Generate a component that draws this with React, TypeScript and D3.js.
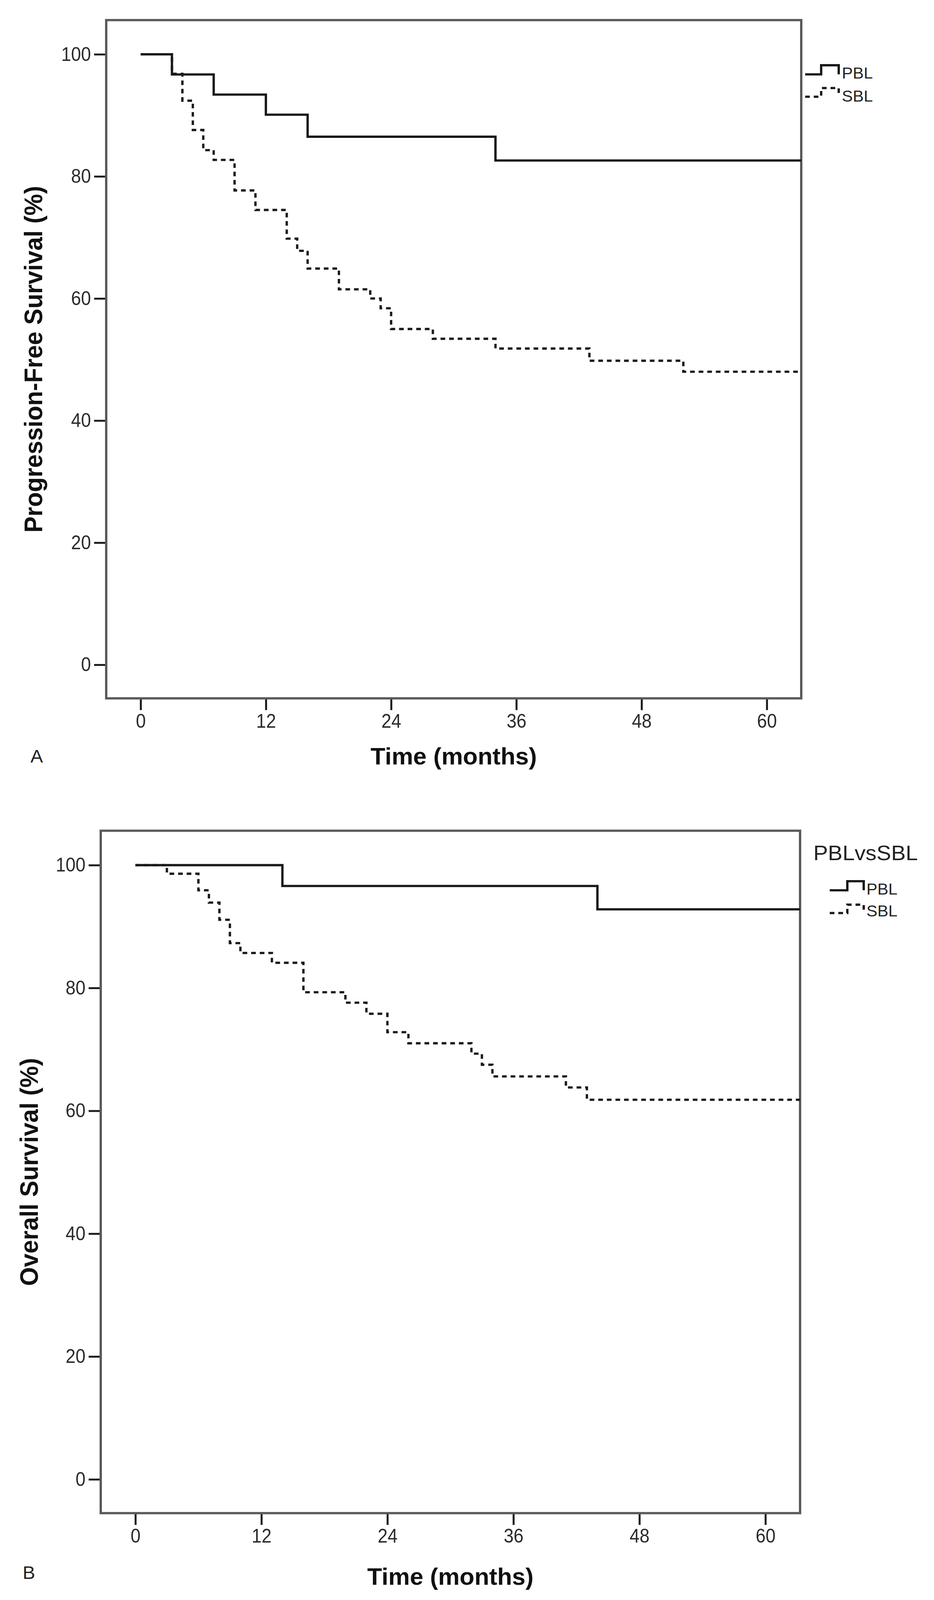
import React, { useRef, useEffect } from "react";
import * as d3 from "d3";

// Kaplan-Meier step estimates (months, % surviving)
const pfsPblTimes = [0, 3, 7, 12, 16, 34];
const pfsPblSurv = [100, 96.7, 93.4, 90.1, 86.5, 82.6];
const pfsSblTimes = [0, 3, 4, 5, 6, 7, 9, 11, 14, 15, 16, 19, 22, 23, 24, 28, 34, 43, 52];
const pfsSblSurv = [100, 96.8, 92.4, 87.6, 84.3, 82.7, 77.7, 74.5, 69.8, 67.8, 64.9, 61.5, 60.0, 58.4, 55.0, 53.4, 51.8, 49.8, 48.0];

const osPblTimes = [0, 14, 44];
const osPblSurv = [100, 96.6, 92.8];
const osSblTimes = [0, 3, 6, 7, 8, 9, 10, 13, 16, 20, 22, 24, 26, 32, 33, 34, 41, 43];
const osSblSurv = [100, 98.6, 95.9, 93.9, 91.1, 87.3, 85.7, 84.1, 79.3, 77.6, 75.8, 72.8, 71.0, 69.3, 67.5, 65.6, 63.8, 61.8];

const lastFollowUp = 63.3;
const xTicks = [0, 12, 24, 36, 48, 60];
const yTicks = [0, 20, 40, 60, 80, 100];
const groups = ["PBL", "SBL"];

const W = 2392;
const H = 4218;
const tickFont = "'Liberation Sans', Arial, sans-serif";
const textFont = "'Liberation Sans', Arial, sans-serif";
const frameColor = "#5a5a5a";
const curveColor = "#1a1a1a";
const dash = "12,10";
const narrow = 0.88;

interface Panel {
  letter: string;
  yTitle: string;
  legendTitle?: string;
  left: number;
  right: number;
  top: number;
  bottom: number;
  yTitleX: number;
  xTitleY: number;
  letterX: number;
  letterY: number;
  series: { times: number[]; surv: number[] }[];
  legend: { titleX: number; titleY: number; x0: number; x1: number; x2: number; textX: number; rows: { low: number; high: number; base: number }[] };
}

const panels: Panel[] = [
  {
    letter: "A",
    yTitle: "Progression-Free Survival (%)",
    left: 272, right: 2052, top: 53, bottom: 1841,
    yTitleX: 108, xTitleY: 2015, letterX: 78, letterY: 2010,
    series: [
      { times: pfsPblTimes, surv: pfsPblSurv },
      { times: pfsSblTimes, surv: pfsSblSurv },
    ],
    legend: {
      titleX: 0, titleY: 0, x0: 2062, x1: 2103, x2: 2148, textX: 2156,
      rows: [
        { low: 196, high: 172, base: 207 },
        { low: 255, high: 232, base: 268 },
      ],
    },
  },
  {
    letter: "B",
    yTitle: "Overall Survival (%)",
    legendTitle: "PBLvsSBL",
    left: 258, right: 2049, top: 2190, bottom: 3989,
    yTitleX: 97, xTitleY: 4178, letterX: 58, letterY: 4162,
    series: [
      { times: osPblTimes, surv: osPblSurv },
      { times: osSblTimes, surv: osSblSurv },
    ],
    legend: {
      titleX: 2083, titleY: 2268, x0: 2125, x1: 2170, x2: 2212, textX: 2219,
      rows: [
        { low: 2347, high: 2323, base: 2358 },
        { low: 2407, high: 2385, base: 2416 },
      ],
    },
  },
];

export default function App() {
  const svgRef = useRef<SVGSVGElement>(null);
  const vw = typeof window !== "undefined" && window.innerWidth > 100 ? window.innerWidth : W;
  const vh = typeof window !== "undefined" && window.innerHeight > 100 ? Math.min(window.innerHeight, H) : H;

  useEffect(() => {
    if (!svgRef.current) return;
    const svg = d3.select(svgRef.current);
    svg.selectAll("*").remove();

    svg.append("rect").attr("width", W).attr("height", H).attr("fill", "#fff");

    panels.forEach((p) => {
      const x = d3.scaleLinear().domain([-3.3, lastFollowUp]).range([p.left, p.right]);
      const y = d3.scaleLinear().domain([-5.5, 105.6]).range([p.bottom, p.top]);
      const g = svg.append("g");

      // Y axis
      const yAxis = g
        .append("g")
        .attr("transform", `translate(${p.left},0)`)
        .call(d3.axisLeft(y).tickValues(yTicks).tickSize(31).tickPadding(8));
      yAxis.select(".domain").remove();
      yAxis.selectAll(".tick line").attr("stroke", curveColor).attr("stroke-width", 5);
      yAxis
        .selectAll<SVGTextElement, number>(".tick text")
        .attr("fill", "#2b2b2b")
        .attr("font-size", 52)
        .attr("font-family", tickFont)
        .attr("x", -39 / narrow)
        .attr("transform", `scale(${narrow},1)`);

      // X axis
      const xAxis = g
        .append("g")
        .attr("transform", `translate(0,${p.bottom})`)
        .call(d3.axisBottom(x).tickValues(xTicks).tickSize(31).tickPadding(10));
      xAxis.select(".domain").remove();
      xAxis.selectAll(".tick line").attr("stroke", curveColor).attr("stroke-width", 5);
      xAxis
        .selectAll(".tick text")
        .attr("fill", "#2b2b2b")
        .attr("font-size", 52)
        .attr("font-family", tickFont)
        .attr("transform", `scale(${narrow},1)`);

      // Frame
      g.append("rect")
        .attr("x", p.left)
        .attr("y", p.top)
        .attr("width", p.right - p.left)
        .attr("height", p.bottom - p.top)
        .attr("fill", "none")
        .attr("stroke", frameColor)
        .attr("stroke-width", 6);

      // Survival curves
      const line = d3
        .line<[number, number]>()
        .x((d) => x(d[0]))
        .y((d) => y(d[1]))
        .curve(d3.curveStepAfter);

      p.series.forEach((s, i) => {
        const pts: [number, number][] = s.times.map((t, k) => [t, s.surv[k]]);
        pts.push([lastFollowUp, s.surv[s.surv.length - 1]]);
        g.append("path")
          .datum(pts)
          .attr("fill", "none")
          .attr("stroke", curveColor)
          .attr("stroke-width", 6)
          .attr("stroke-dasharray", i === 1 ? dash : null)
          .attr("d", line);
      });

      // Titles
      g.append("text")
        .attr("transform", `translate(${p.yTitleX},${(p.top + p.bottom) / 2}) rotate(-90)`)
        .attr("text-anchor", "middle")
        .attr("font-family", textFont)
        .attr("font-weight", "bold")
        .attr("font-size", 64)
        .attr("fill", "#111")
        .text(p.yTitle);

      g.append("text")
        .attr("x", (p.left + p.right) / 2)
        .attr("y", p.xTitleY)
        .attr("text-anchor", "middle")
        .attr("font-family", textFont)
        .attr("font-weight", "bold")
        .attr("font-size", 62)
        .attr("fill", "#111")
        .text("Time (months)");

      g.append("text")
        .attr("x", p.letterX)
        .attr("y", p.letterY)
        .attr("font-family", textFont)
        .attr("font-size", 48)
        .attr("fill", "#222")
        .text(p.letter);

      // Legend
      const lg = p.legend;
      if (p.legendTitle) {
        g.append("text")
          .attr("x", lg.titleX)
          .attr("y", lg.titleY)
          .attr("font-family", textFont)
          .attr("font-size", 56)
          .attr("fill", "#222")
          .text(p.legendTitle);
      }
      lg.rows.forEach((r, i) => {
        const path = d3.path();
        path.moveTo(lg.x0, r.low);
        path.lineTo(lg.x1, r.low);
        path.lineTo(lg.x1, r.high);
        path.lineTo(lg.x2, r.high);
        path.lineTo(lg.x2, r.low);
        g.append("path")
          .attr("d", path.toString())
          .attr("fill", "none")
          .attr("stroke", curveColor)
          .attr("stroke-width", 6)
          .attr("stroke-dasharray", i === 1 ? dash : null);
        g.append("text")
          .attr("x", lg.textX)
          .attr("y", r.base)
          .attr("font-family", textFont)
          .attr("font-size", 42)
          .attr("fill", "#222")
          .text(groups[i]);
      });
    });
  }, []);

  return (
    <svg
      ref={svgRef}
      width={vw}
      height={vh}
      viewBox={`0 0 ${W} ${H}`}
      preserveAspectRatio="none"
      style={{ position: "absolute", left: 0, top: 0, display: "block" }}
    />
  );
}
